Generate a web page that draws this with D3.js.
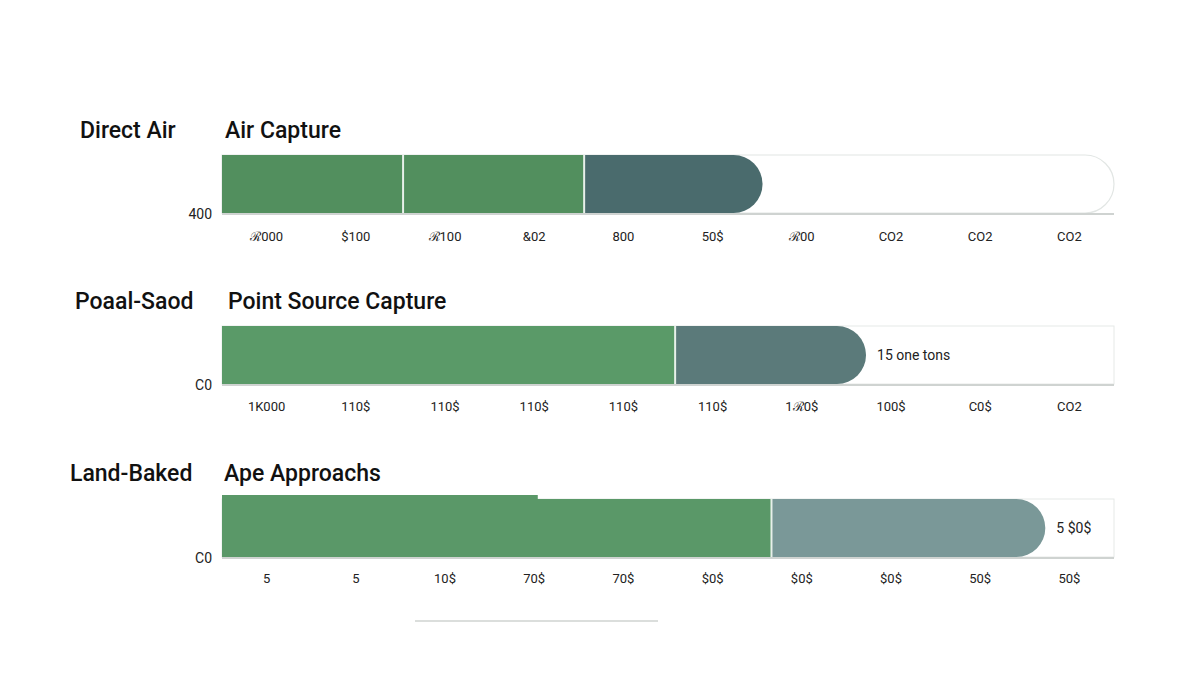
<!DOCTYPE html>
<html><head><meta charset="utf-8">
<script src="https://cdn.jsdelivr.net/npm/d3@7"></script>
<style>body{margin:0;background:#fff}</style></head>
<body><svg id="c" width="1200" height="675"></svg>
<script>
const panelLeftLabels = ["Direct Air", "Poaal-Saod", "Land-Baked"];
const panelTitles = ["Air Capture", "Point Source Capture", "Ape Approachs"];
const axisLabels = ["400", "C0", "C0"];
const segments = [[20.3, 20.3, 20.0], [50.8, 21.4], [61.6, 30.7]];
const segColors = [["#528f5e", "#528f5e", "#4a6b6d"], ["#5a9a68", "#5b7a7a"], ["#5a9868", "#7a9898"]];
const endLabels = ["", "15 one tons", "5 $0$"];
const tickLabels = [
  ["ℛ000", "$100", "ℛ100", "&02", "800", "50$", "ℛ00", "CO2", "CO2", "CO2"],
  ["1K000", "110$", "110$", "110$", "110$", "110$", "1ℛ0$", "100$", "C0$", "CO2"],
  ["5", "5", "10$", "70$", "70$", "$0$", "$0$", "$0$", "50$", "50$"]
];
const bumpValue = 35.4;

const svg = d3.select("#c");
const x = d3.scaleLinear().domain([0, 100]).range([222, 1114]);
const tickX = d3.scaleBand().domain(d3.range(10)).range([222, 1114]);
const tops = [155, 326, 499];
const h = 58;
const titleY = [138, 309, 481];
const tickY = [241, 411, 583];

function roundedRight(x0, x1, y, hh, r) {
  return `M${x0},${y}H${x1 - r}A${r},${r} 0 0 1 ${x1},${y + r}V${y + hh - r}A${r},${r} 0 0 1 ${x1 - r},${y + hh}H${x0}Z`;
}

tops.forEach((top, p) => {
  const g = svg.append("g");
  g.append("text").attr("x", 80).attr("y", titleY[p]).text(panelLeftLabels[p])
    .attr("font-family", "Roboto").attr("font-weight", 500).attr("font-size", 23).attr("fill", "#111")
    .attr("x", p === 0 ? 80 : (p === 1 ? 75 : 70));
  g.append("text").attr("x", p === 0 ? 225 : 228).attr("y", titleY[p]).text(panelTitles[p])
    .attr("font-family", "Roboto").attr("font-weight", 500).attr("font-size", 23).attr("fill", "#111")
    .attr("x", p === 2 ? 224 : (p === 1 ? 228 : 225));
  // background track
  if (p === 0) {
    g.append("path").attr("d", roundedRight(x(0), x(100), top, h, 29))
      .attr("fill", "#fff").attr("stroke", "#e2e6e4").attr("stroke-width", 1.2);
  } else {
    g.append("rect").attr("x", x(0)).attr("y", top).attr("width", x(100) - x(0)).attr("height", h)
      .attr("fill", "#fff").attr("stroke", "#e6e9e7").attr("stroke-width", 1);
  }
  if (p === 2) {
    g.append("rect").attr("x", x(0)).attr("y", top - 4).attr("width", x(bumpValue) - x(0)).attr("height", 8)
      .attr("fill", segColors[2][0]);
  }
  let acc = 0;
  segments[p].forEach((v, i) => {
    const x0 = x(acc), x1 = x(acc + v);
    const last = i === segments[p].length - 1;
    if (last) g.append("path").attr("d", roundedRight(x0, x1, top, h, 29)).attr("fill", segColors[p][i]);
    else g.append("rect").attr("x", x0).attr("y", top).attr("width", x1 - x0).attr("height", h).attr("fill", segColors[p][i]);
    if (i > 0) g.append("line").attr("x1", x0).attr("x2", x0).attr("y1", top).attr("y2", top + h)
      .attr("stroke", "#e8f0ea").attr("stroke-width", 2);
    acc += v;
  });
  g.append("line").attr("x1", x(0)).attr("x2", x(100)).attr("y1", top + h + 1).attr("y2", top + h + 1)
    .attr("stroke", "#cfd3d1").attr("stroke-width", 2);
  g.append("text").attr("x", 212).attr("y", top + h + 6).attr("text-anchor", "end").text(axisLabels[p])
    .attr("font-family", "Roboto").attr("font-size", 14).attr("fill", "#222");
  if (endLabels[p]) g.append("text").attr("x", x(acc) + 11).attr("y", top + h / 2 + 5).text(endLabels[p])
    .attr("font-family", "Roboto").attr("font-size", 14).attr("fill", "#222");
  tickLabels[p].forEach((t, i) => {
    g.append("text").attr("x", tickX(i) + tickX.bandwidth() / 2).attr("y", tickY[p]).attr("text-anchor", "middle")
      .text(t).attr("font-family", "Roboto").attr("font-size", 13).attr("fill", "#222");
  });
});
svg.append("line").attr("x1", 415).attr("x2", 658).attr("y1", 621).attr("y2", 621).attr("stroke", "#cfd3d1").attr("stroke-width", 1.5);
</script></body></html>
